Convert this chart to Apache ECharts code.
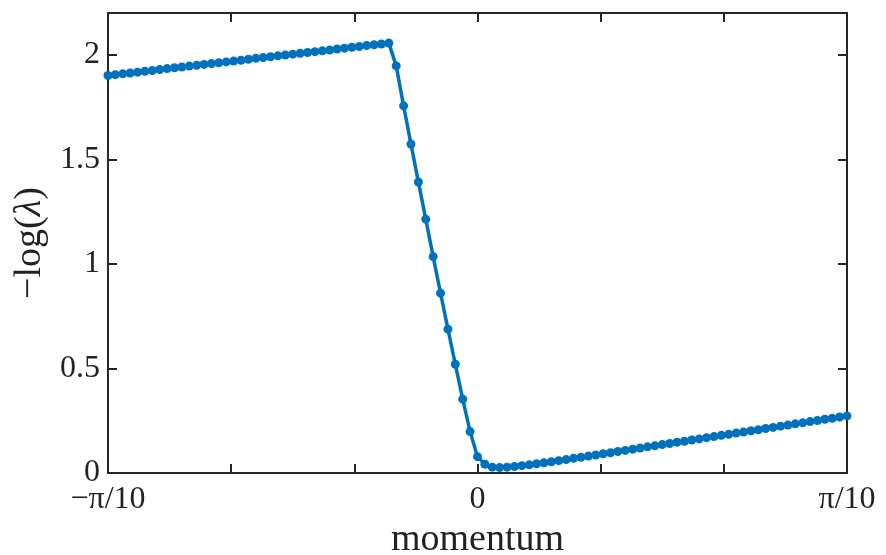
<!DOCTYPE html>
<html>
<head>
<meta charset="utf-8">
<script src="https://cdn.jsdelivr.net/npm/echarts@6/dist/echarts.min.js"></script>
<style>
  * { margin: 0; padding: 0; }
  html, body { background: #fff; }
  #chart { width: 886px; height: 555px; }
</style>
</head>
<body>
<div id="chart"></div>
<script>
// -log(lambda), sampled on an even momentum grid from -pi/10 to pi/10 (101 points)
const logLambda = [
  1.901, 1.905, 1.909, 1.913, 1.917, 1.921, 1.925, 1.930, 1.934, 1.938,
  1.942, 1.946, 1.950, 1.954, 1.958, 1.962, 1.966, 1.970, 1.974, 1.979,
  1.983, 1.987, 1.991, 1.995, 1.999, 2.003, 2.007, 2.011, 2.015, 2.019,
  2.023, 2.028, 2.032, 2.036, 2.040, 2.044, 2.048, 2.052, 2.056,
  1.947, 1.756, 1.573, 1.392, 1.214, 1.035, 0.860, 0.688, 0.520, 0.353,
  0.198, 0.078,
  0.042, 0.028, 0.026, 0.028, 0.031, 0.035, 0.039, 0.044, 0.049, 0.054,
  0.059, 0.064, 0.070, 0.075, 0.081, 0.086, 0.092, 0.097, 0.103, 0.108,
  0.114, 0.119, 0.125, 0.130, 0.136, 0.141, 0.147, 0.152, 0.158, 0.163,
  0.169, 0.174, 0.180, 0.185, 0.191, 0.196, 0.202, 0.207, 0.213, 0.218,
  0.224, 0.229, 0.235, 0.240, 0.246, 0.251, 0.257, 0.262, 0.268, 0.273
];
const xMin = -Math.PI / 10;
const xMax = Math.PI / 10;
const xTickStep = Math.PI / 30;
const xTickLabels = ['\u2212\u03c0/10', '', '', '0', '', '', '\u03c0/10'];
const yTickLabels = ['0', '0.5', '1', '1.5', '2'];

const step = (xMax - xMin) / (logLambda.length - 1);
const points = logLambda.map((v, k) => [xMin + k * step, v]);

const font = 'Liberation Serif';
const axisColor = '#262626';

const chart = echarts.init(document.getElementById('chart'), null, { renderer: 'canvas' });

const baseX = {
  type: 'value',
  min: xMin,
  max: xMax,
  interval: xTickStep,
  splitLine: { show: false },
  axisLine: { show: true, onZero: false, lineStyle: { color: axisColor, width: 2 } },
  axisTick: { show: true, inside: true, length: 9, lineStyle: { color: axisColor, width: 2 } }
};
const baseY = {
  type: 'value',
  min: 0,
  max: 2.2,
  interval: 0.5,
  splitLine: { show: false },
  axisLine: { show: true, onZero: false, lineStyle: { color: axisColor, width: 2 } },
  axisTick: { show: true, inside: true, length: 9, lineStyle: { color: axisColor, width: 2 } }
};

chart.setOption({
  animation: false,
  backgroundColor: '#fff',
  grid: { left: 108, right: 39, top: 13, bottom: 82, outerBoundsMode: 'none', containLabel: false },
  xAxis: [
    Object.assign({}, baseX, {
      position: 'bottom',
      name: 'momentum',
      nameLocation: 'middle',
      nameGap: 43,
      nameTextStyle: { fontFamily: font, fontSize: 38, color: '#222' },
      axisLabel: {
        margin: 11,
        fontFamily: font,
        fontSize: 32,
        color: '#222',
        formatter: (v) => {
          const i = Math.round((v - xMin) / xTickStep);
          return xTickLabels[i] || '';
        }
      }
    }),
    Object.assign({}, baseX, { position: 'top', axisLabel: { show: false } })
  ],
  yAxis: [
    Object.assign({}, baseY, {
      position: 'left',
      name: '{r|\u2212log(}{i|\u03bb}{r|)}',
      nameLocation: 'middle',
      nameGap: 56,
      nameRotate: 90,
      nameTextStyle: {
        fontFamily: font,
        fontSize: 38,
        color: '#222',
        rich: {
          r: { fontFamily: font, fontSize: 38, color: '#222' },
          i: { fontFamily: font, fontSize: 38, color: '#222', fontStyle: 'italic' }
        }
      },
      axisLabel: {
        margin: 8,
        fontFamily: font,
        fontSize: 32,
        color: '#222',
        showMaxLabel: false,
        formatter: (v) => {
          const i = Math.round(v / 0.5);
          return Math.abs(v - i * 0.5) < 1e-6 ? (yTickLabels[i] || '') : '';
        }
      }
    }),
    Object.assign({}, baseY, { position: 'right', axisLabel: { show: false } })
  ],
  series: [
    {
      type: 'line',
      data: points,
      xAxisIndex: 0,
      yAxisIndex: 0,
      symbol: 'circle',
      symbolSize: 9,
      showSymbol: true,
      showAllSymbol: true,
      lineStyle: { color: '#0072BD', width: 3.5 },
      itemStyle: { color: '#0072BD' },
      clip: false
    }
  ]
});
</script>
</body>
</html>
